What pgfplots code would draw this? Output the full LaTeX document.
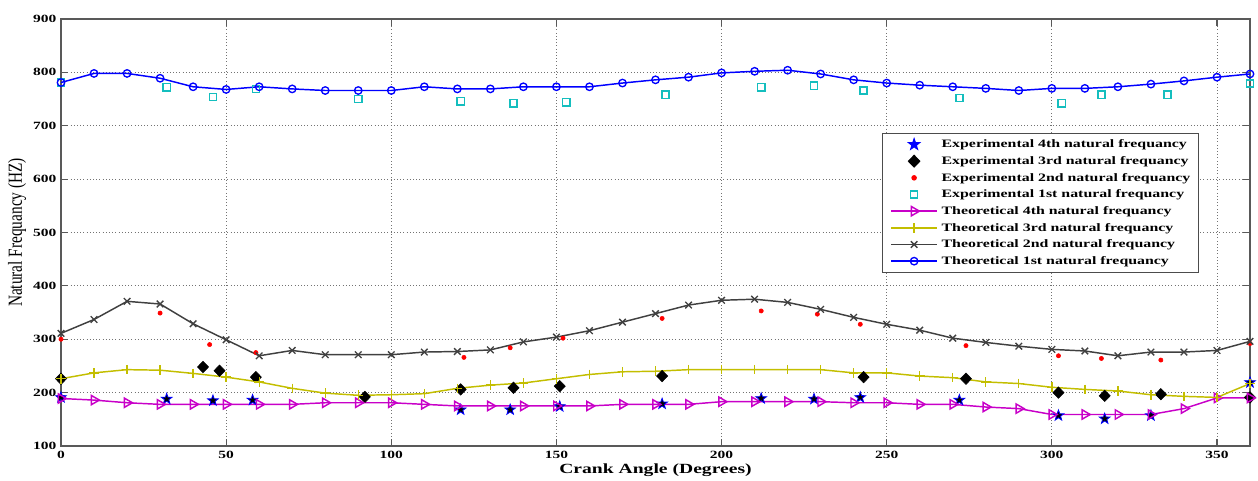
\documentclass[border=0pt]{standalone}
\usepackage{fontspec}
\setmainfont{Liberation Serif}[FakeStretch=1.4]
\newfontfamily\ylabfont{Liberation Serif}
\usepackage{pgfplots}
\pgfplotsset{compat=1.18}
\usetikzlibrary{plotmarks}
\definecolor{cBlue}{RGB}{0,0,255}
\definecolor{cCyan}{RGB}{20,190,190}
\definecolor{cRed}{RGB}{255,0,0}
\definecolor{cMag}{RGB}{200,0,200}
\definecolor{cYel}{RGB}{195,190,0}
\definecolor{cGray}{RGB}{64,64,64}
\pgfdeclareplotmark{pstar}{%
  \pgfpathmoveto{\pgfpointpolar{90}{\pgfplotmarksize}}%
  \pgfpathlineto{\pgfpointpolar{126}{0.4\pgfplotmarksize}}%
  \pgfpathlineto{\pgfpointpolar{162}{\pgfplotmarksize}}%
  \pgfpathlineto{\pgfpointpolar{198}{0.4\pgfplotmarksize}}%
  \pgfpathlineto{\pgfpointpolar{234}{\pgfplotmarksize}}%
  \pgfpathlineto{\pgfpointpolar{270}{0.4\pgfplotmarksize}}%
  \pgfpathlineto{\pgfpointpolar{306}{\pgfplotmarksize}}%
  \pgfpathlineto{\pgfpointpolar{342}{0.4\pgfplotmarksize}}%
  \pgfpathlineto{\pgfpointpolar{18}{\pgfplotmarksize}}%
  \pgfpathlineto{\pgfpointpolar{54}{0.4\pgfplotmarksize}}%
  \pgfpathclose
  \pgfusepathqfillstroke
}
\pgfplotsset{
  theo/.style={line width=1.1pt, mark options={solid, line width=1pt},
    legend image code/.code={\draw[mark repeat=2,mark phase=2,##1] plot coordinates {(0cm,0cm)(0.6cm,0cm)(1.2cm,0cm)};}},
  expt/.style={only marks,
    legend image code/.code={\draw[##1] plot coordinates {(0.6cm,0cm)};}},
}
\begin{document}
\begin{tikzpicture}
\begin{axis}[
  scale only axis, width=891.75pt, height=320.25pt,
  xmin=0, xmax=360, ymin=100, ymax=900,
  xtick={0,50,...,350}, ytick={100,200,...,900},
  grid=major, major grid style={dotted, black!55, line width=0.7pt},
  axis line style={black!65, line width=0.9pt},
  tick style={black!65, line width=0.9pt},
  tick align=inside, major tick length=5pt,
  ticklabel style={font=\fontsize{8.3}{9}\selectfont\bfseries},
  /pgf/number format/assume math mode=true,
  xlabel={\fontsize{10.5}{12}\selectfont\bfseries Crank Angle (Degrees)},
  every axis x label/.style={at={(rel axis cs:0.5,0)}, anchor=center, yshift=-18pt},
  ylabel={\ylabfont\fontsize{11.5}{13}\selectfont\scalebox{1}[1.3]{Natural Frequancy (HZ)}},
  every axis y label/.style={at={(axis description cs:-0.037,0.5)}, anchor=center, rotate=90},
  legend cell align=left,
  legend style={at={(rel axis cs:0.6905,0.734)}, anchor=north west,
    font=\fontsize{8.5}{9}\selectfont\bfseries, draw=black!70, line width=0.9pt,
    nodes={inner sep=0pt, text height=7pt, text depth=2pt},
    row sep=3.5pt, column sep=3pt, inner xsep=6pt, inner ysep=4pt},
]
% Experimental 4th
\addplot[expt, mark=pstar, mark size=4.2pt, mark options={draw=blue, fill=black, line width=0.6pt},
  legend image code/.code={\draw[only marks, mark=pstar, mark size=4.2pt, mark options={draw=blue, fill=blue}] plot coordinates {(0.6cm,0cm)};}]
  coordinates {(0,191) (32,188) (46,185) (58,186) (121,168) (136,168) (151,174) (182,179) (212,189) (228,188) (242,191) (272,186) (302,157) (316,151) (330,157) (360,219)};
\addlegendentry{Experimental 4th natural frequancy}
% Experimental 3rd
\addplot[expt, mark=diamond*, mark size=4.3pt, mark options={black, fill=black, xscale=1.3}]
  coordinates {(0,226) (43,248) (48,241) (59,229) (92,192) (121,206) (137,209) (151,212) (182,231) (243,229) (274,226) (302,200) (316,194) (333,197) (360,191)};
\addlegendentry{Experimental 3rd natural frequancy}
% Experimental 2nd
\addplot[expt, mark=*, mark size=1.6pt, mark options={draw=cRed, fill=cRed}]
  coordinates {(0,300) (30,349) (45,290) (59,275) (122,266) (136,284) (152,302) (182,339) (212,353) (229,347) (242,328) (274,288) (302,269) (315,264) (333,261) (360,292)};
\addlegendentry{Experimental 2nd natural frequancy}
% Experimental 1st
\addplot[expt, mark=square, mark size=2.7pt, mark options={draw=cCyan, line width=1.1pt}]
  coordinates {(0,781) (32,772) (46,754) (59,769) (90,750) (121,746) (137,742) (153,744) (183,758) (212,772) (228,775) (243,766) (272,752) (303,742) (315,758) (335,758) (360,779)};
\addlegendentry{Experimental 1st natural frequancy}
% Theoretical 4th
\addplot[theo, color=cMag, mark=triangle, mark size=4pt, mark options={rotate=-90}]
  coordinates {(0,189) (10,186) (20,181) (30,178) (40,178) (50,178) (60,178) (70,178) (80,181) (90,181) (100,181) (110,178) (120,175) (130,175) (140,175) (150,175) (160,175) (170,178) (180,178) (190,178) (200,183) (210,183) (220,183) (230,183) (240,181) (250,181) (260,178) (270,178) (280,173) (290,170) (300,159) (310,159) (320,159) (330,159) (340,170) (350,190) (360,190)};
\addlegendentry{Theoretical 4th natural frequancy}
% Theoretical 3rd
\addplot[theo, color=cYel, mark=+, mark size=3.6pt]
  coordinates {(0,226) (10,237) (20,243) (30,242) (40,236) (50,229) (60,220) (70,208) (80,199) (90,195) (100,196) (110,198) (120,208) (130,214) (140,218) (150,226) (160,234) (170,239) (180,240) (190,243) (200,243) (210,243) (220,243) (230,243) (240,237) (250,237) (260,231) (270,228) (280,220) (290,217) (300,210) (310,206) (320,203) (330,196) (340,193) (350,191) (360,217)};
\addlegendentry{Theoretical 3rd natural frequancy}
% Theoretical 2nd
\addplot[theo, color=cGray, mark=x, mark size=3.5pt]
  coordinates {(0,311) (10,337) (20,371) (30,366) (40,329) (50,299) (60,269) (70,279) (80,271) (90,271) (100,271) (110,276) (120,277) (130,280) (140,295) (150,304) (160,316) (170,332) (180,348) (190,364) (200,373) (210,375) (220,369) (230,356) (240,341) (250,328) (260,317) (270,302) (280,294) (290,287) (300,281) (310,278) (320,269) (330,276) (340,276) (350,279) (360,296)};
\addlegendentry{Theoretical 2nd natural frequancy}
% Theoretical 1st
\addplot[theo, color=cBlue, mark=o, mark size=2.8pt]
  coordinates {(0,781) (10,798) (20,798) (30,789) (40,773) (50,768) (60,773) (70,769) (80,766) (90,766) (100,766) (110,773) (120,769) (130,769) (140,773) (150,773) (160,773) (170,780) (180,786) (190,791) (200,799) (210,802) (220,804) (230,797) (240,786) (250,780) (260,776) (270,773) (280,770) (290,766) (300,770) (310,770) (320,773) (330,778) (340,784) (350,791) (360,797)};
\addlegendentry{Theoretical 1st natural frequancy}
\end{axis}
\pgfresetboundingbox
\useasboundingbox ([xshift=-45.75pt,yshift=-26.25pt]current axis.south west) rectangle ([xshift=6pt,yshift=14.25pt]current axis.north east);
\end{tikzpicture}
\end{document}
